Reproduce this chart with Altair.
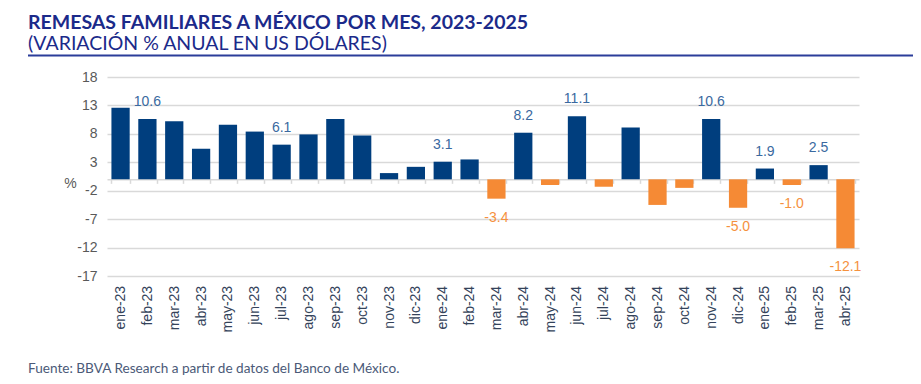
import altair as alt
import pandas as pd

months = ["ene-23", "feb-23", "mar-23", "abr-23", "may-23", "jun-23", "jul-23",
          "ago-23", "sep-23", "oct-23", "nov-23", "dic-23", "ene-24", "feb-24",
          "mar-24", "abr-24", "may-24", "jun-24", "jul-24", "ago-24", "sep-24",
          "oct-24", "nov-24", "dic-24", "ene-25", "feb-25", "mar-25", "abr-25"]
values = [12.6, 10.6, 10.2, 5.4, 9.6, 8.4, 6.1, 7.9, 10.6, 7.7, 1.1, 2.2, 3.1, 3.5,
          -3.4, 8.2, -1.0, 11.1, -1.3, 9.1, -4.5, -1.5, 10.6, -5.0, 1.9, -1.0, 2.5, -12.1]
labels = ["", "10.6", "", "", "", "", "6.1", "", "", "", "", "", "3.1", "",
          "-3.4", "8.2", "", "11.1", "", "", "", "", "10.6", "-5.0", "1.9", "-1.0", "2.5", "-12.1"]
y_ticks = [-17, -12, -7, -2, 3, 8, 13, 18]

title_text = "REMESAS FAMILIARES A MÉXICO POR MES, 2023-2025"
subtitle_text = "(VARIACIÓN % ANUAL EN US DÓLARES)"
source_text = "Fuente: BBVA Research a partir de datos del Banco de México."

NAVY = "#003E7E"
ORANGE = "#F58A35"
LBL_BLUE = "#3A69A0"
LBL_ORANGE = "#F5913E"
GRID = "#D9D9D9"
TITLE_C = "#1B2A8A"
NARROW = "Liberation Sans Narrow, Arial Narrow, Liberation Sans, Arial"

W, H = 752, 199
zero_px = H * 18 / 35

df = pd.DataFrame({"mes": months, "valor": values, "etiqueta": labels})

x_enc = alt.X("mes:N", sort=months,
              scale=alt.Scale(paddingInner=0.32, paddingOuter=0.165),
              axis=alt.Axis(orient="bottom", offset=-(H - zero_px), title=None,
                            labelAngle=-90, labelAlign="right", labelBaseline="middle",
                            labelPadding=102, labelFont="Liberation Sans", labelFontSize=14,
                            labelColor="#34435A", domainColor=GRID, domainWidth=1.5,
                            tickColor=GRID, tickWidth=1.5, tickSize=4, tickBand="extent",
                            grid=False, labelOverlap=False))
y_enc = alt.Y("valor:Q",
              scale=alt.Scale(domain=[-17, 18], nice=False, zero=False),
              axis=alt.Axis(values=y_ticks, tickCount=len(y_ticks), domain=False,
                            ticks=False, tickSize=0,
                            labelOverlap=False, labelExpr="'' + datum.value",
                            labelPadding=10, labelFont=NARROW, labelFontSize=14,
                            labelColor="#595959", gridColor=GRID, gridWidth=1.5,
                            title="%", titleAngle=0, titleX=-37, titleY=106,
                            titleAlign="center", titleBaseline="middle",
                            titleFont=NARROW, titleFontSize=14, titleFontWeight="normal",
                            titleColor="#595959"))

base = alt.Chart(df)

bars = base.mark_bar().encode(
    x=x_enc, y=y_enc,
    color=alt.condition(alt.datum.valor >= 0, alt.value(NAVY), alt.value(ORANGE)),
)

pos_lbl = base.transform_filter(
    (alt.datum.etiqueta != "") & (alt.datum.valor >= 0)
).mark_text(dy=-17, baseline="middle", font=NARROW, fontSize=14, color=LBL_BLUE).encode(
    x=alt.X("mes:N", sort=months), y="valor:Q", text="etiqueta:N")

neg_lbl = base.transform_filter(
    (alt.datum.etiqueta != "") & (alt.datum.valor < 0)
).mark_text(dy=19, baseline="middle", font=NARROW, fontSize=14, color=LBL_ORANGE).encode(
    x=alt.X("mes:N", sort=months), y="valor:Q", text="etiqueta:N")

txt = pd.DataFrame({"t": [title_text], "s": [subtitle_text], "f": [source_text]})
tb = alt.Chart(txt)
title = tb.mark_text(align="left", baseline="alphabetic", font="Lato", fontSize=19.5,
                     fontWeight="bold", color=TITLE_C).encode(
    x=alt.value(-79), y=alt.value(-48.5), text="t:N")
subtitle = tb.mark_text(align="left", baseline="alphabetic", font="Lato", fontSize=19.5,
                        color=TITLE_C).encode(
    x=alt.value(-79), y=alt.value(-27), text="s:N")
underline = tb.mark_rule(color="#2B3D9A", strokeWidth=2).encode(
    x=alt.value(-79), x2=alt.value(807), y=alt.value(-21.5))
source = tb.mark_text(align="left", baseline="alphabetic", font="Lato", fontSize=13.6,
                      color="#4B5A78").encode(
    x=alt.value(-79), y=alt.value(296), text="f:N")

chart = alt.layer(bars, pos_lbl, neg_lbl, title, subtitle, underline, source).properties(
    width=W, height=H,
    autosize=alt.AutoSizeParams(type="none"),
    padding={"left": 99, "top": 69, "right": 54, "bottom": 100},
    background="white",
).configure_view(stroke=None)

chart.save("out.html", embed_options={"renderer": "svg", "actions": False})
